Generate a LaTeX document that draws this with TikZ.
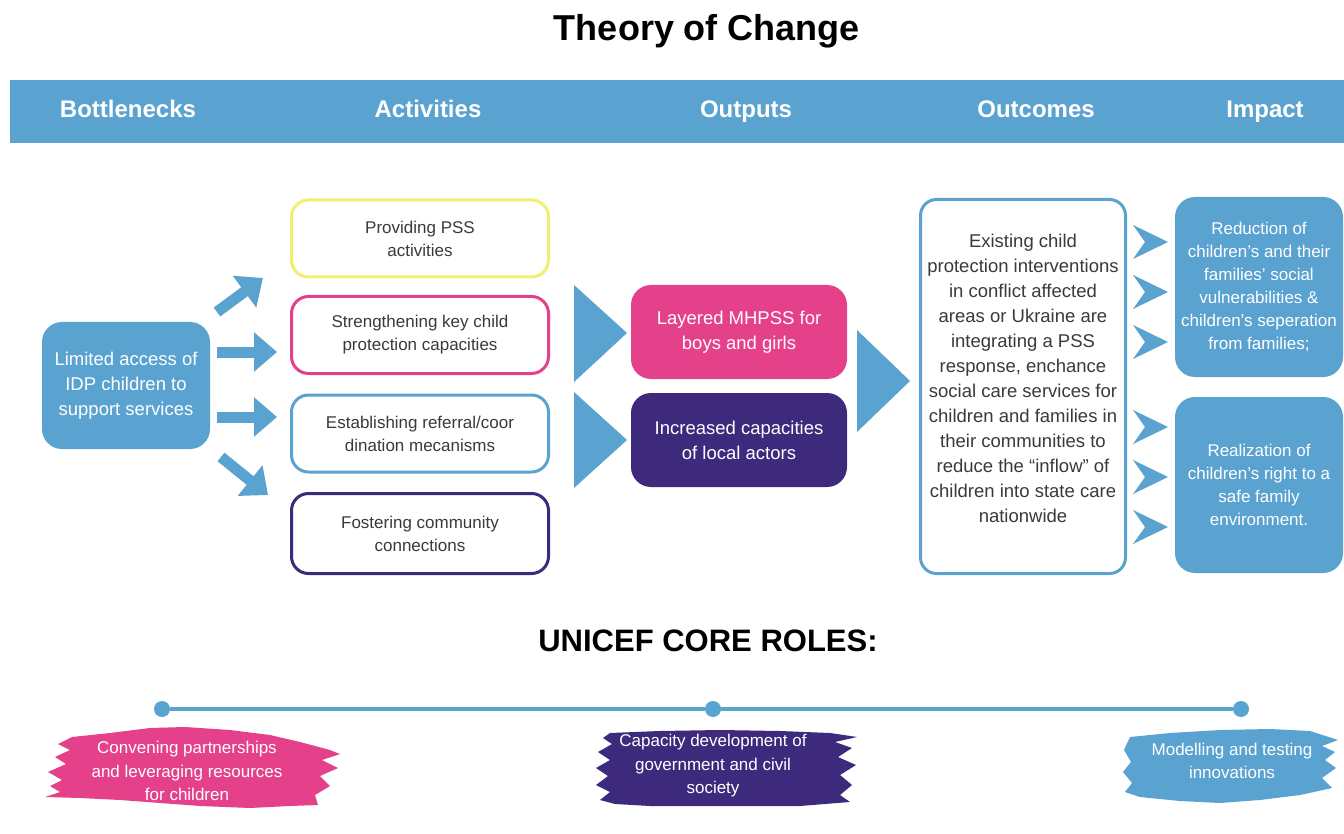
\documentclass[tikz,border=0pt]{standalone}
\usepackage{fontspec}
\setmainfont{Liberation Sans}
\usetikzlibrary{arrows.meta}
\definecolor{tocblue}{HTML}{5AA2D0}
\definecolor{tocpink}{HTML}{E4418A}
\definecolor{tocpurple}{HTML}{3E2A7C}
\definecolor{tocyellow}{HTML}{F3EE70}
\definecolor{textgray}{HTML}{3A3A3A}

\begin{document}
\begin{tikzpicture}[x=1pt,y=-1pt,
		head/.style={anchor=base,text=white,font=\bfseries\fontsize{24}{28}\selectfont},
		actbox/.style={draw,line width=3pt,rounded corners=17pt,fill=white,minimum width=257pt,minimum height=77pt,align=center,text=textgray,font=\fontsize{17}{23}\selectfont},
		outbox/.style={rounded corners=20pt,minimum width=216pt,minimum height=94pt,align=center,text=white,font=\fontsize{18.5}{25}\selectfont},
		impbox/.style={fill=tocblue,rounded corners=20pt,minimum width=168pt,align=center,text=white,font=\fontsize{17}{23}\selectfont},
		blockarrow/.style={tocblue,line width=11pt,-{Triangle[length=23pt,width=38pt]}},
		roledot/.style={circle,fill=tocblue,minimum size=16pt,inner sep=0pt},
		roletext/.style={align=center,text=white,font=\fontsize{17}{23.5}\selectfont}]
	\useasboundingbox (0,0) rectangle (1344,834);
	\fill[white] (0,0) rectangle (1344,834);

	% title and header band
	\node[font=\bfseries\fontsize{36}{40}\selectfont] (title) at (707,31) {Theory of Change};
	\fill[tocblue] (10,80) rectangle (1344,143);
	\node[head] (hbottle) at (128,118) {Bottlenecks};
	\node[head] (hact) at (428,118) {Activities};
	\node[head] (hout) at (746,118) {Outputs};
	\node[head] (hoc) at (1036,118) {Outcomes};
	\node[head] (himp) at (1265,118) {Impact};

	% bottleneck
	\node[fill=tocblue,rounded corners=20pt,minimum width=168pt,minimum height=127pt,align=center,text=white,font=\fontsize{18.5}{25}\selectfont] (bottle) at (126,385.5)
	{Limited access of\\IDP children to\\support services};

	% activities
	\node[actbox,draw=tocyellow] (act1) at (420,238.5) {Providing PSS\\activities};
	\node[actbox,draw=tocpink] (act2) at (420,335) {Strengthening key child\\protection capacities};
	\node[actbox,draw=tocblue] (act3) at (420,433.5) {Establishing referral/coor\\dination mecanisms};
	\node[actbox,draw=tocpurple,minimum height=80pt] (act4) at (420,533.5) {Fostering community\\connections};

	\coordinate (t1) at (217,312); \coordinate (h1) at (263,278);
	\coordinate (t2) at (217,352); \coordinate (h2) at (277,352);
	\coordinate (t3) at (217,417); \coordinate (h3) at (277,417);
	\coordinate (t4) at (221,457); \coordinate (h4) at (268,495);
	\foreach \i in {1,...,4}
		\draw[blockarrow] (t\i) -- (h\i);

	% outputs
	\fill[tocblue] (574,285) -- (627,333) -- (574,382) -- cycle;
	\fill[tocblue] (574,392) -- (627,440) -- (574,488) -- cycle;
	\node[outbox,fill=tocpink] (out1) at (739,332) {Layered MHPSS for\\boys and girls};
	\node[outbox,fill=tocpurple] (out2) at (739,440) {Increased capacities\\of local actors};
	\fill[tocblue] (857,330) -- (910,381) -- (857,432) -- cycle;

	% outcomes
	\node[draw=tocblue,line width=3pt,rounded corners=16pt,minimum width=205pt,minimum height=374pt,text depth=17pt,align=center,text=textgray,font=\fontsize{18.5}{25}\selectfont] (outcome) at (1023,386.5)
	{Existing child\\protection interventions\\in conflict affected\\areas or Ukraine are\\integrating a PSS\\response, enchance\\social care services for\\children and families in\\their communities to\\reduce the “inflow” of\\children into state care\\nationwide};

	\foreach \cy in {242,292,342,427,477,527}
		\fill[tocblue] (1133,\cy-17) -- (1168,\cy) -- (1133,\cy+17) -- (1145,\cy) -- cycle;

	% impact
	\node[impbox,minimum height=180pt] (imp1) at (1259,287)
	{Reduction of\\children's and their\\families' social\\vulnerabilities \&\\children's seperation\\from families;};
	\node[impbox,minimum height=176pt] (imp2) at (1259,485)
	{Realization of\\children's right to a\\safe family\\environment.};

	% core roles
	\node[font=\bfseries\fontsize{31}{34}\selectfont] (roles) at (708,641) {UNICEF CORE ROLES:};
	\node[roledot] (r1) at (162,709) {};
	\node[roledot] (r2) at (713,709) {};
	\node[roledot] (r3) at (1241,709) {};
	\draw[tocblue,line width=4pt] (r1) -- (r2) -- (r3);

	\fill[tocpink] (72,737) -- (110,733) -- (150,728) -- (185,727) -- (230,730) -- (270,735) -- (300,742) -- (330,750) -- (340,754) -- (322,760) -- (338,768) -- (320,776) -- (330,786) -- (315,795) -- (318,805) -- (290,806) -- (250,808) -- (200,806) -- (160,803) -- (120,800) -- (80,798) -- (45,797) -- (60,792) -- (50,786) -- (62,780) -- (48,772) -- (66,764) -- (55,757) -- (70,750) -- (58,744) -- cycle;
	\fill[tocpurple] (610,733) -- (660,731) -- (720,730) -- (780,731) -- (830,733) -- (857,737) -- (835,742) -- (852,748) -- (838,757) -- (856,765) -- (840,775) -- (852,785) -- (840,795) -- (850,802) -- (800,806) -- (750,806) -- (700,806) -- (650,806) -- (615,804) -- (600,800) -- (610,792) -- (596,785) -- (608,776) -- (596,768) -- (610,760) -- (598,752) -- (612,744) -- (603,738) -- cycle;
	\fill[tocblue] (1130,737) -- (1170,733) -- (1220,730) -- (1270,729) -- (1310,731) -- (1338,740) -- (1322,746) -- (1335,752) -- (1325,760) -- (1336,768) -- (1322,778) -- (1332,788) -- (1300,795) -- (1260,800) -- (1220,803) -- (1180,801) -- (1140,797) -- (1125,792) -- (1132,783) -- (1123,772) -- (1131,762) -- (1124,750) -- cycle;

	\node[roletext] (role1) at (187,771) {Convening partnerships\\and leveraging resources\\for children};
	\node[roletext] (role2) at (713,766) {Capacity development of\\government and civil\\society};
	\node[roletext] (role3) at (1232,761) {Modelling and testing\\innovations};
\end{tikzpicture}
\end{document}
